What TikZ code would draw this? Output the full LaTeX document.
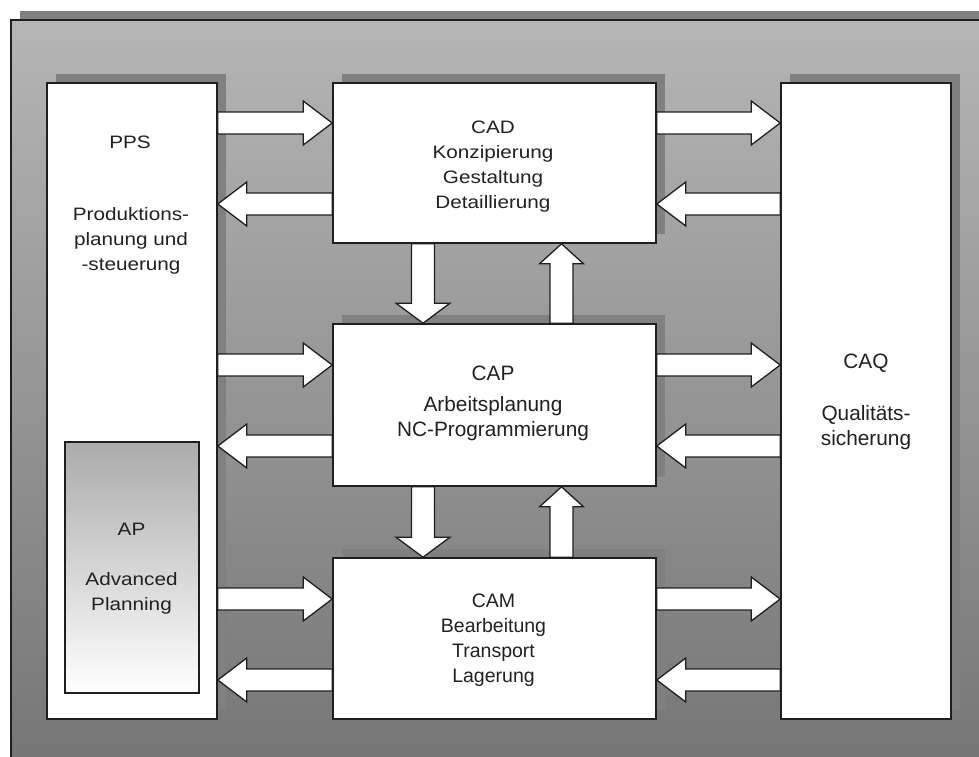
\documentclass[tikz,border=0pt]{standalone}
\usepackage{fontspec}
\setmainfont{Liberation Sans}
\newfontfamily\widesans[FakeStretch=1.15]{Liberation Sans}
\usetikzlibrary{calc,shadows}

\definecolor{framelight}{gray}{0.71}
\definecolor{framedark}{gray}{0.46}
\definecolor{shadowgray}{gray}{0.5}
\definecolor{edge}{gray}{0.12}
\definecolor{ink}{gray}{0.13}

\tikzset{
  panel/.style={rectangle, draw=edge, line width=1.6pt, fill=white, inner sep=0pt,
    general shadow={fill=shadowgray, shadow xshift=9pt, shadow yshift=9pt}},
  apbox/.style={rectangle, draw=edge, line width=1.4pt, inner sep=0pt,
    top color=black!33, middle color=black!12, bottom color=white},
  txtwide/.style={font={\widesans\fontsize{18}{25}\selectfont}, text=ink, align=center, inner sep=0pt},
  txtmid/.style={font={\fontsize{19.5}{25}\selectfont}, text=ink, align=center, inner sep=0pt},
  txtbig/.style={font={\fontsize{20.8}{25}\selectfont}, text=ink, align=center, inner sep=0pt},
  blockarrow/.style={draw=edge, line width=1.3pt, fill=white, line join=miter},
}

% horizontal block arrow from #1 to #2 (same height)
\newcommand\harrow[2]{%
  \path (#1) coordinate (tail) (#2) coordinate (head);
  \path ($(head)!29pt!(tail)$) coordinate (hbase);
  \draw[blockarrow] ($(tail)+(0,11)$) -- ($(hbase)+(0,11)$) -- ($(hbase)+(0,22)$)
    -- (head) -- ($(hbase)+(0,-22)$) -- ($(hbase)+(0,-11)$)
    -- ($(tail)+(0,-11)$) -- cycle;}

% vertical block arrow from #1 to #2, head half-width #3
\newcommand\varrow[3]{%
  \path (#1) coordinate (tail) (#2) coordinate (head);
  \path ($(head)!20pt!(tail)$) coordinate (hbase);
  \draw[blockarrow] ($(tail)+(11.5,0)$) -- ($(hbase)+(11.5,0)$) -- ($(hbase)+(#3,0)$)
    -- (head) -- ($(hbase)+(-#3,0)$) -- ($(hbase)+(-11.5,0)$)
    -- ($(tail)+(-11.5,0)$) -- cycle;}

\begin{document}
\begin{tikzpicture}[x=1pt,y=-1pt]
\useasboundingbox (0,0) rectangle (979,756);
\clip (0,0) rectangle (979,756);

% backdrop with its shadow; only its top and left edges fall inside the page
\fill[shadowgray] (20,11) rectangle (979,756);
\shade[top color=framelight, bottom color=framedark] (11,20) rectangle (979,770);
\draw[edge, line width=1.6pt] (11,760) -- (11,20) -- (985,20);

% system blocks
\node[panel, minimum width=170pt, minimum height=636pt] (pps) at (132,401) {};
\node[panel, minimum width=170pt, minimum height=636pt] (caq) at (866,401) {};
\node[panel, minimum width=323pt, minimum height=160pt] (cad) at (494.5,163) {};
\node[panel, minimum width=323pt, minimum height=162pt] (cap) at (494.5,405) {};
\node[panel, minimum width=323pt, minimum height=161pt] (cam) at (494.5,638.5) {};
\node[apbox, minimum width=134pt, minimum height=251pt] (ap) at (132,567.5) {};

% labels
\node[txtwide, anchor=base] (ppstitle) at (130,148) {PPS};
\node[txtwide] (ppstext) at (131,241) {Produktions-\\planung und\\-steuerung};
\node[txtwide] (aptext) at (131.5,569) {AP\\[25pt]Advanced\\Planning};
\node[txtwide] (cadtext) at (493,167) {CAD\\Konzipierung\\Gestaltung\\Detaillierung};
\node[txtbig] (captext) at (493,403) {CAP\\[6pt]Arbeitsplanung\\NC-Programmierung};
\node[txtmid] (camtext) at (493.5,640.5) {CAM\\Bearbeitung\\Transport\\Lagerung};
\node[txtbig] (caqtext) at (866,402) {CAQ\\[27pt]Qualitäts-\\sicherung};

% arrow rows and columns
\coordinate (r1) at (0,123);
\coordinate (l1) at (0,204);
\coordinate (r2) at (0,365);
\coordinate (l2) at (0,446);
\coordinate (r3) at (0,599);
\coordinate (l3) at (0,680);
\coordinate (dn) at (423,0);
\coordinate (up) at (561.5,0);

\harrow{pps.east |- r1}{cad.west |- r1}
\harrow{cad.east |- r1}{caq.west |- r1}
\harrow{cad.west |- l1}{pps.east |- l1}
\harrow{caq.west |- l1}{cad.east |- l1}

\harrow{pps.east |- r2}{cap.west |- r2}
\harrow{cap.east |- r2}{caq.west |- r2}
\harrow{cap.west |- l2}{pps.east |- l2}
\harrow{caq.west |- l2}{cap.east |- l2}

\harrow{pps.east |- r3}{cam.west |- r3}
\harrow{cam.east |- r3}{caq.west |- r3}
\harrow{cam.west |- l3}{pps.east |- l3}
\harrow{caq.west |- l3}{cam.east |- l3}

\varrow{cad.south -| dn}{cap.north -| dn}{27}
\varrow{cap.north -| up}{cad.south -| up}{22}
\varrow{cap.south -| dn}{cam.north -| dn}{27}
\varrow{cam.north -| up}{cap.south -| up}{22}
\end{tikzpicture}
\end{document}
